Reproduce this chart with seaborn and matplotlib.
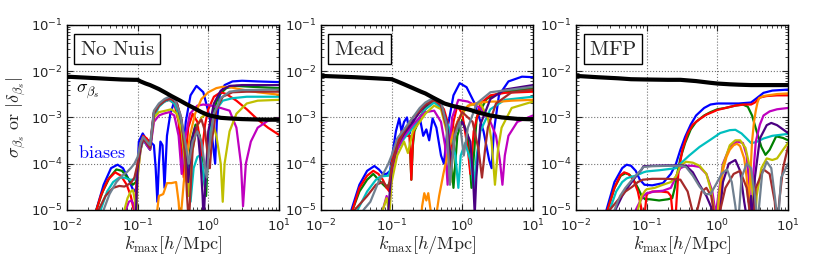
import pandas as pd
import matplotlib
matplotlib.use("Agg")
import matplotlib.pyplot as plt
import seaborn as sns

# colours of the bias curves, in drawing order
names = ["blue", "green", "red", "cyan", "magenta", "yellow", "orange", "indigo", "brown", "gray"]
colors = ["#0000ff", "#008000", "#ff0000", "#00bfbf", "#bf00bf", "#bfbf00",
          "#ff8c00", "#4b0082", "#a52a2a", "#708090"]
titles = ["No Nuis", "Mead", "MFP"]

# ---------------- panel 1: No Nuis ----------------
nn_sig_k = [0.01, 0.02, 0.04, 0.06, 0.09, 0.1, 0.11, 0.13, 0.15, 0.2, 0.25, 0.3, 0.4, 0.5, 0.6, 0.8, 1.0, 1.5, 2, 3, 5, 10]
nn_sig_y = [7.6e-3, 7.2e-3, 6.8e-3, 6.6e-3, 6.5e-3, 6.5e-3, 6.0e-3, 5.4e-3, 5.0e-3, 4.1e-3, 3.4e-3, 2.9e-3, 2.3e-3, 1.9e-3, 1.65e-3, 1.3e-3, 1.12e-3, 9.8e-4, 9.5e-4, 9.2e-4, 9.0e-4, 8.9e-4]

nn_blue_k = [0.026, 0.033, 0.042, 0.052, 0.062, 0.075, 0.088, 0.097, 0.104, 0.118, 0.13, 0.15, 0.17, 0.18, 0.19, 0.2, 0.21, 0.225, 0.24, 0.26, 0.29, 0.33, 0.38, 0.43, 0.48, 0.56, 0.68, 0.85, 1.05, 1.25, 1.32, 1.45, 1.7, 2.2, 3, 5, 10]
nn_blue_y = [1e-5, 3.5e-5, 8e-5, 9.5e-5, 8e-5, 4.5e-5, 2.5e-5, 3e-5, 3e-4, 4.5e-4, 3.5e-4, 3e-4, 2.5e-4, 8e-5, 1.5e-5, 1e-4, 3e-4, 2.5e-4, 3e-5, 4e-4, 1.2e-3, 2.2e-3, 1e-3, 1e-4, 8e-4, 3e-3, 4.8e-3, 3.5e-3, 1e-3, 1e-4, 8e-4, 3e-3, 5e-3, 6e-3, 6.2e-3, 6e-3, 5.8e-3]
nn_green_k = [0.026, 0.032, 0.04, 0.05, 0.06, 0.072, 0.085, 0.095, 0.1, 0.108, 0.12, 0.135, 0.15, 0.17, 0.2, 0.24, 0.28, 0.33, 0.4, 0.45, 0.5, 0.57, 0.66, 0.76, 0.86, 0.93, 1.0, 1.15, 1.4, 1.8, 2.5, 4, 10]
nn_green_y = [1e-5, 2.5e-5, 5e-5, 7.5e-5, 7e-5, 5e-5, 3.5e-5, 4e-5, 8e-5, 2e-4, 3.5e-4, 2.5e-4, 2e-4, 1.2e-3, 1.8e-3, 2.3e-3, 2.5e-3, 2.2e-3, 1e-3, 3e-4, 4e-5, 3e-4, 7e-4, 4e-4, 5e-5, 2e-5, 2e-4, 1.2e-3, 3e-3, 4.3e-3, 4.8e-3, 4.6e-3, 4.3e-3]
nn_red_k = [0.025, 0.03, 0.038, 0.048, 0.058, 0.07, 0.08, 0.088, 0.093, 0.1, 0.108, 0.12, 0.135, 0.15, 0.17, 0.2, 0.24, 0.28, 0.33, 0.38, 0.45, 0.52, 0.6, 0.7, 0.8, 0.9, 1.0, 1.2, 1.5, 1.8, 2.5, 3.5, 5, 7, 10]
nn_red_y = [8e-6, 2e-5, 4.5e-5, 6.5e-5, 5.5e-5, 3.5e-5, 2e-5, 1e-5, 1.5e-5, 1e-4, 2.5e-4, 4e-4, 3.5e-4, 2.5e-4, 1.3e-3, 1.8e-3, 2.2e-3, 2.4e-3, 2e-3, 8e-4, 5e-5, 6e-4, 1.2e-3, 8e-4, 1.5e-4, 7e-4, 1.5e-3, 2.8e-3, 3.5e-3, 3.2e-3, 2.3e-3, 1.5e-3, 9e-4, 6e-4, 4.2e-4]
nn_cyan_k = [0.03, 0.037, 0.045, 0.055, 0.065, 0.078, 0.09, 0.1, 0.11, 0.12, 0.135, 0.15, 0.17, 0.2, 0.24, 0.28, 0.33, 0.4, 0.46, 0.52, 0.56, 0.62, 0.7, 0.76, 0.84, 0.9, 0.95, 1.05, 1.3, 1.6, 2.2, 3.5, 10]
nn_cyan_y = [1e-5, 2.5e-5, 4e-5, 5e-5, 5e-5, 4.5e-5, 4.5e-5, 9e-5, 2e-4, 3.2e-4, 2.5e-4, 2e-4, 1e-3, 1.7e-3, 2.2e-3, 2.4e-3, 2e-3, 1e-3, 3.5e-4, 6e-5, 1.5e-5, 8e-5, 1.4e-4, 1.5e-4, 8e-5, 3e-5, 1e-4, 5e-4, 1.5e-3, 2.3e-3, 2.6e-3, 2.8e-3, 2.8e-3]
nn_magenta_k = [0.068, 0.075, 0.082, 0.088, 0.094, 0.1, 0.11, 0.12, 0.135, 0.15, 0.17, 0.2, 0.23, 0.28, 0.33, 0.38, 0.42, 0.46, 0.55, 0.7, 0.85, 1.1, 1.5, 2.0, 2.5, 2.9, 3.1, 3.4, 4, 5, 7, 10]
nn_magenta_y = [1e-5, 1.5e-5, 1.6e-5, 1.3e-5, 8e-6, 6e-5, 2e-4, 3.5e-4, 2.5e-4, 2e-4, 8e-4, 1.1e-3, 1.2e-3, 1.3e-3, 1.1e-3, 4e-4, 6e-5, 3e-4, 1.2e-3, 1.8e-3, 1.9e-3, 1.8e-3, 1.6e-3, 1.4e-3, 6e-4, 1e-4, 1.2e-5, 1e-4, 3e-4, 6e-4, 8.5e-4, 9.5e-4]
nn_yellow_k = [0.065, 0.072, 0.08, 0.086, 0.092, 0.096, 0.1, 0.11, 0.12, 0.135, 0.15, 0.17, 0.2, 0.25, 0.3, 0.36, 0.42, 0.48, 0.52, 0.58, 0.68, 0.8, 0.95, 1.1, 1.3, 1.5, 1.6, 1.7, 2.0, 2.5, 3.5, 5, 10]
nn_yellow_y = [1e-5, 1.8e-5, 2.5e-5, 2.7e-5, 1.5e-5, 6e-6, 5e-5, 2e-4, 3.5e-4, 3e-4, 2.5e-4, 1e-3, 1.3e-3, 1.4e-3, 1.5e-3, 1.2e-3, 5e-4, 7e-5, 2e-5, 1.5e-4, 6e-4, 1e-3, 1.2e-3, 1e-3, 4e-4, 1e-4, 1.5e-5, 1e-4, 5e-4, 1.2e-3, 2e-3, 2.3e-3, 2.4e-3]
nn_orange_k = [0.18, 0.2, 0.23, 0.26, 0.3, 0.35, 0.38, 0.4, 0.45, 0.5, 0.55, 0.65, 0.8, 1.0, 1.3, 1.6, 2, 3, 5, 10]
nn_orange_y = [5e-6, 2e-5, 2.2e-5, 3.8e-5, 3.8e-5, 4e-5, 1.5e-5, 5e-6, 4e-5, 1.5e-4, 4e-4, 1.2e-3, 2.5e-3, 3.5e-3, 4.3e-3, 4.6e-3, 4.5e-3, 4e-3, 3.5e-3, 3.1e-3]
nn_indigo_k = [0.095, 0.1, 0.11, 0.12, 0.135, 0.15, 0.17, 0.2, 0.25, 0.3, 0.36, 0.42, 0.48, 0.52, 0.58, 0.65, 0.72, 0.78, 0.83, 0.86, 0.9, 1.0, 1.2, 1.5, 2, 3, 10]
nn_indigo_y = [1e-5, 8e-5, 2.2e-4, 3.5e-4, 2.8e-4, 2.2e-4, 1.3e-3, 1.9e-3, 2.4e-3, 2.6e-3, 2e-3, 8e-4, 1.5e-4, 4e-5, 3e-4, 6e-4, 4e-4, 1e-4, 2e-5, 5e-6, 3e-5, 5e-4, 2e-3, 3.8e-3, 4.8e-3, 5e-3, 5e-3]
nn_brown_k = [0.028, 0.035, 0.045, 0.055, 0.065, 0.08, 0.09, 0.1, 0.11, 0.12, 0.135, 0.15, 0.17, 0.2, 0.25, 0.3, 0.36, 0.42, 0.47, 0.5, 0.53, 0.6, 0.7, 0.8, 0.9, 1.0, 1.05, 1.12, 1.3, 1.6, 2.2, 3.5, 10]
nn_brown_y = [1e-5, 2e-5, 3e-5, 3.3e-5, 3.2e-5, 3.8e-5, 5e-5, 1e-4, 2.5e-4, 3.5e-4, 2.8e-4, 2.2e-4, 1.2e-3, 1.8e-3, 2.4e-3, 2.5e-3, 2e-3, 9e-4, 1.5e-4, 2e-5, 5e-6, 2e-4, 7e-4, 9e-4, 5e-4, 1.2e-4, 8e-5, 3e-4, 1.5e-3, 2.8e-3, 3.5e-3, 3.6e-3, 3.6e-3]
nn_gray_k = [0.033, 0.04, 0.05, 0.06, 0.07, 0.08, 0.09, 0.1, 0.11, 0.12, 0.135, 0.15, 0.17, 0.2, 0.24, 0.28, 0.33, 0.4, 0.47, 0.53, 0.6, 0.7, 0.8, 0.9, 0.95, 1.02, 1.2, 1.5, 2.0, 3, 10]
nn_gray_y = [1e-5, 2.2e-5, 4e-5, 5.5e-5, 6.5e-5, 8e-5, 1e-4, 1.4e-4, 2.8e-4, 3.8e-4, 3e-4, 2.5e-4, 1.4e-3, 2e-3, 2.5e-3, 2.8e-3, 2.5e-3, 1.2e-3, 3e-4, 1e-4, 3e-4, 5e-4, 3e-4, 8e-5, 5e-5, 2e-4, 1.2e-3, 2.6e-3, 3.6e-3, 3.9e-3, 4e-3]

# ---------------- panel 2: Mead ----------------
md_sig_k = [0.01, 0.03, 0.06, 0.1, 0.12, 0.15, 0.2, 0.26, 0.3, 0.4, 0.56, 0.75, 1.0, 1.3, 1.7, 2.5, 3.6, 6, 10]
md_sig_y = [7.9e-3, 7.4e-3, 7.0e-3, 6.7e-3, 6.0e-3, 5.2e-3, 4.3e-3, 3.6e-3, 3.3e-3, 2.6e-3, 2.0e-3, 1.75e-3, 1.6e-3, 1.45e-3, 1.27e-3, 1.1e-3, 1.0e-3, 9.3e-4, 9.1e-4]

md_blue_k = [0.027, 0.035, 0.045, 0.057, 0.066, 0.075, 0.085, 0.095, 0.105, 0.115, 0.128, 0.138, 0.15, 0.165, 0.18, 0.2, 0.22, 0.25, 0.28, 0.31, 0.34, 0.38, 0.43, 0.5, 0.55, 0.62, 0.75, 0.92, 1.15, 1.5, 2.0, 2.4, 2.6, 2.8, 3.3, 4.5, 7, 10]
md_blue_y = [1e-5, 3.5e-5, 7e-5, 8.9e-5, 7.5e-5, 6e-5, 6e-5, 7e-5, 2e-4, 5e-4, 9.5e-4, 5e-4, 8e-4, 1e-3, 4.5e-4, 9e-4, 6e-4, 1e-3, 4e-4, 5.5e-4, 3.2e-4, 9.5e-4, 6e-4, 1.5e-4, 1e-4, 6e-4, 3e-3, 5.5e-3, 4.5e-3, 2e-3, 5e-4, 1.2e-4, 8e-5, 5e-4, 3e-3, 6e-3, 7.6e-3, 7.4e-3]
md_green_k = [0.028, 0.035, 0.045, 0.055, 0.07, 0.085, 0.095, 0.1, 0.11, 0.12, 0.15, 0.18, 0.19, 0.2, 0.21, 0.25, 0.3, 0.4, 0.5, 0.65, 0.75, 0.85, 1.0, 1.2, 1.35, 1.6, 2.2, 3.5, 10]
md_green_y = [1e-5, 2.5e-5, 4.5e-5, 6e-5, 4e-5, 3e-5, 4e-5, 1e-4, 2e-4, 3e-4, 5e-4, 4e-4, 4.5e-5, 2.5e-4, 5e-4, 1e-3, 1.6e-3, 2.3e-3, 1.8e-3, 5e-4, 3e-5, 4e-4, 9e-4, 4e-4, 3e-5, 1e-3, 2.5e-3, 3.5e-3, 4.3e-3]
md_red_k = [0.028, 0.035, 0.045, 0.055, 0.065, 0.075, 0.085, 0.093, 0.1, 0.11, 0.12, 0.14, 0.16, 0.18, 0.19, 0.2, 0.21, 0.25, 0.3, 0.4, 0.45, 0.55, 0.62, 0.68, 0.75, 0.85, 1.0, 1.2, 1.3, 1.45, 1.8, 2.5, 4, 10]
md_red_y = [1e-5, 3e-5, 5.5e-5, 7e-5, 6e-5, 4.5e-5, 3e-5, 2.5e-5, 1e-4, 2e-4, 3e-4, 5e-4, 4e-4, 4e-4, 4.5e-5, 3e-4, 6e-4, 1e-3, 1.5e-3, 2.2e-3, 2.2e-3, 1.5e-3, 8e-4, 2e-4, 8e-4, 1.8e-3, 1.2e-3, 2e-4, 6e-5, 5e-4, 2e-3, 3e-3, 3.4e-3, 3.6e-3]
md_cyan_k = [0.033, 0.045, 0.06, 0.07, 0.09, 0.1, 0.12, 0.15, 0.2, 0.25, 0.3, 0.4, 0.5, 0.65, 0.8, 0.88, 0.95, 1.1, 1.3, 1.45, 1.6, 1.8, 2.5, 4, 10]
md_cyan_y = [1e-5, 2.5e-5, 4.5e-5, 5.3e-5, 5.5e-5, 9e-5, 2e-4, 3.5e-4, 6e-4, 1e-3, 1.5e-3, 2.1e-3, 1.6e-3, 6e-4, 1.5e-4, 3e-5, 1.5e-4, 2.8e-4, 1.2e-4, 3e-5, 1.5e-4, 5e-4, 1.5e-3, 2.4e-3, 2.8e-3]
md_magenta_k = [0.075, 0.085, 0.093, 0.1, 0.12, 0.15, 0.2, 0.25, 0.3, 0.4, 0.5, 0.57, 0.62, 0.67, 0.72, 0.88, 1.2, 1.8, 2.5, 3.0, 3.4, 3.7, 4.0, 4.5, 6, 10]
md_magenta_y = [1e-5, 2e-5, 1.2e-5, 5e-5, 2e-4, 4e-4, 7e-4, 1e-3, 1.3e-3, 1.4e-3, 8e-4, 2.5e-4, 3.5e-5, 3e-4, 1e-3, 2.4e-3, 2.2e-3, 1.6e-3, 8e-4, 4e-4, 1.2e-4, 3.5e-5, 1.5e-4, 4e-4, 8e-4, 1.1e-3]
md_yellow_k = [0.075, 0.085, 0.093, 0.1, 0.12, 0.15, 0.17, 0.2, 0.25, 0.3, 0.4, 0.5, 0.6, 0.68, 0.76, 0.85, 1.2, 1.8, 2.3, 2.6, 2.9, 3.2, 3.6, 5, 10]
md_yellow_y = [1e-5, 1.8e-5, 8e-6, 4e-5, 1.5e-4, 3e-4, 1.7e-4, 5e-4, 8e-4, 1.2e-3, 1.8e-3, 1.5e-3, 5e-4, 4e-5, 3e-4, 8e-4, 1.8e-3, 2e-3, 1e-3, 3e-4, 3.5e-5, 2e-4, 6e-4, 1.6e-3, 2.2e-3]
md_orange_k = [0.25, 0.27, 0.29, 0.31, 0.33, 0.35, 0.38, 0.41, 0.43, 0.47, 0.54, 0.62, 0.74, 0.88, 1.02, 1.3, 1.8, 2.5, 3.5, 5, 10]
md_orange_y = [3e-6, 1.2e-5, 2.3e-5, 1.6e-5, 2.3e-5, 1.2e-5, 5e-6, 3e-6, 8e-6, 2e-5, 6e-5, 1.6e-4, 4.6e-4, 9e-4, 1.4e-3, 1.9e-3, 2.1e-3, 2.2e-3, 2.2e-3, 2.3e-3, 2.4e-3]
md_indigo_k = [0.09, 0.1, 0.12, 0.15, 0.2, 0.25, 0.3, 0.4, 0.5, 0.6, 0.7, 0.8, 1.0, 1.3, 1.42, 1.5, 1.58, 1.8, 2.5, 4, 10]
md_indigo_y = [1e-5, 8e-5, 2.5e-4, 4.5e-4, 8e-4, 1.3e-3, 1.8e-3, 2.5e-3, 2e-3, 8e-4, 1e-4, 5e-4, 8e-4, 3e-4, 5e-5, 8e-6, 5e-5, 7e-4, 2.5e-3, 4e-3, 5e-3]
md_brown_k = [0.03, 0.045, 0.06, 0.075, 0.09, 0.1, 0.12, 0.15, 0.2, 0.25, 0.3, 0.4, 0.5, 0.6, 0.68, 0.8, 1.0, 1.4, 1.7, 1.9, 2.1, 2.3, 3, 5, 10]
md_brown_y = [1e-5, 2e-5, 3.5e-5, 4e-5, 3e-5, 8e-5, 2.5e-4, 5e-4, 1e-3, 1.4e-3, 1.9e-3, 2.4e-3, 1.8e-3, 6e-4, 6e-5, 6e-4, 1.3e-3, 8e-4, 2e-4, 5e-5, 2e-4, 6e-4, 2e-3, 3.5e-3, 4e-3]
md_gray_k = [0.04, 0.05, 0.065, 0.08, 0.09, 0.1, 0.12, 0.15, 0.2, 0.25, 0.3, 0.4, 0.5, 0.6, 0.67, 0.78, 0.92, 1.05, 1.2, 1.6, 2.5, 10]
md_gray_y = [1e-5, 1.5e-5, 4e-5, 7e-5, 1e-4, 1.5e-4, 3.5e-4, 5.5e-4, 1e-3, 1.6e-3, 2.1e-3, 2.7e-3, 2.2e-3, 7e-4, 3.5e-5, 4e-4, 8e-4, 1.5e-4, 6e-4, 2e-3, 3.5e-3, 4.6e-3]

# ---------------- panel 3: MFP ----------------
mf_sig_k = [0.01, 0.02, 0.04, 0.06, 0.1, 0.2, 0.3, 0.5, 0.8, 1.0, 1.5, 2, 3, 5, 10]
mf_sig_y = [7.9e-3, 7.4e-3, 7.0e-3, 6.7e-3, 6.6e-3, 6.5e-3, 6.5e-3, 6.1e-3, 5.6e-3, 5.4e-3, 5.2e-3, 5.1e-3, 5.0e-3, 5.0e-3, 5.0e-3]

mf_blue_k = [0.027, 0.035, 0.045, 0.052, 0.06, 0.07, 0.08, 0.093, 0.12, 0.17, 0.22, 0.26, 0.3, 0.35, 0.42, 0.5, 0.65, 0.8, 1.0, 1.3, 2, 3, 3.6, 4.5, 6, 10]
mf_blue_y = [1e-5, 4e-5, 8e-5, 9.5e-5, 9e-5, 7e-5, 4.5e-5, 3.5e-5, 3.4e-5, 3.8e-5, 6e-5, 1e-4, 2e-4, 3.8e-4, 7e-4, 1.1e-3, 1.6e-3, 1.9e-3, 2.0e-3, 2.0e-3, 2.0e-3, 2.1e-3, 2.6e-3, 3.4e-3, 3.8e-3, 4.0e-3]
mf_green_k = [0.028, 0.035, 0.043, 0.05, 0.057, 0.065, 0.075, 0.085, 0.095, 0.11, 0.15, 0.2, 0.23, 0.25, 0.27, 0.3, 0.35, 0.42, 0.5, 0.65, 0.8, 1.0, 1.3, 1.8, 2.3, 2.7, 3.1, 3.6, 4.2, 4.8, 5.5, 6.8, 8.5, 10]
mf_green_y = [1e-5, 3e-5, 5.5e-5, 6.2e-5, 5.8e-5, 4.5e-5, 3e-5, 2e-5, 1.7e-5, 1.7e-5, 1.6e-5, 1.7e-5, 1.8e-5, 3e-5, 6e-5, 1.3e-4, 2.8e-4, 5.5e-4, 8e-4, 1.1e-3, 1.3e-3, 1.5e-3, 1.6e-3, 1.8e-3, 1.9e-3, 1.7e-3, 1.1e-3, 5e-4, 2.3e-4, 1.55e-4, 2e-4, 3.9e-4, 3.6e-4, 3.2e-4]
mf_red_k = [0.028, 0.035, 0.042, 0.048, 0.055, 0.065, 0.075, 0.085, 0.09, 0.095, 0.1, 0.12, 0.16, 0.2, 0.22, 0.24, 0.26, 0.28, 0.32, 0.38, 0.45, 0.55, 0.7, 0.85, 1.0, 1.3, 1.8, 2.4, 3.0, 3.4, 4, 5, 7, 10]
mf_red_y = [1e-5, 3e-5, 5.5e-5, 6.5e-5, 6e-5, 4.5e-5, 2.5e-5, 1e-5, 5e-6, 1e-5, 2.2e-5, 2.5e-5, 2.5e-5, 2.4e-5, 2e-5, 5e-6, 1e-5, 6e-5, 2e-4, 4.5e-4, 7e-4, 9e-4, 1.15e-3, 1.3e-3, 1.45e-3, 1.6e-3, 1.8e-3, 1.9e-3, 1.9e-3, 2.1e-3, 2.7e-3, 2.9e-3, 3e-3, 3e-3]
mf_cyan_k = [0.03, 0.037, 0.045, 0.052, 0.06, 0.07, 0.08, 0.09, 0.1, 0.15, 0.2, 0.26, 0.3, 0.4, 0.56, 0.8, 1.1, 1.5, 1.8, 2.2, 2.6, 3.0, 3.5, 4.5, 6, 10]
mf_cyan_y = [1e-5, 2.5e-5, 4e-5, 4.8e-5, 5.2e-5, 5.5e-5, 6e-5, 6.5e-5, 6.8e-5, 7.2e-5, 7.6e-5, 8e-5, 1e-4, 1.5e-4, 2.3e-4, 3.3e-4, 4.6e-4, 5.3e-4, 5.4e-4, 4.5e-4, 3.5e-4, 2.8e-4, 2.9e-4, 3.5e-4, 4e-4, 4.4e-4]
mf_magenta_k = [0.07, 0.08, 0.09, 0.1, 0.13, 0.17, 0.22, 0.27, 0.3, 0.36, 0.45, 0.56, 0.7, 0.85, 0.95, 1.05, 1.2, 1.5, 1.9, 2.3, 2.6, 2.85, 3.0, 3.2, 3.5, 4, 4.5, 5.5, 7, 10]
mf_magenta_y = [1e-5, 1.5e-5, 2e-5, 2.3e-5, 2.5e-5, 2.6e-5, 3e-5, 6e-5, 8e-5, 9e-5, 9e-5, 8.5e-5, 6e-5, 2.5e-5, 8e-6, 2.5e-5, 1e-4, 2.3e-4, 3e-4, 2.8e-4, 1.5e-4, 3e-5, 4e-6, 5e-5, 3e-4, 7e-4, 1.1e-3, 1.35e-3, 1.5e-3, 1.6e-3]
mf_yellow_k = [0.075, 0.085, 0.095, 0.1, 0.13, 0.17, 0.22, 0.26, 0.3, 0.36, 0.45, 0.56, 0.7, 0.82, 0.92, 0.98, 1.05, 1.2, 1.5, 1.8, 2.1, 2.5, 2.9, 3.2, 3.4, 3.6, 4.2, 5, 6, 7, 8.5, 10]
mf_yellow_y = [1e-5, 2e-5, 2.6e-5, 2.8e-5, 3e-5, 3.5e-5, 4e-5, 5.3e-5, 9e-5, 1.1e-4, 1.05e-4, 9e-5, 6e-5, 2.5e-5, 8e-6, 4e-6, 2e-5, 9e-5, 2.5e-4, 3.2e-4, 3.2e-4, 2.2e-4, 8e-5, 2e-5, 4e-6, 2e-5, 8e-5, 1.3e-4, 1.2e-4, 1.3e-4, 2e-4, 2.8e-4]
mf_orange_k = [0.9, 1.0, 1.06, 1.15, 1.22, 1.35, 1.5, 1.7, 1.9, 2.1, 2.4, 2.6, 2.75, 2.9, 3.1, 3.3, 3.5, 3.7, 3.9, 4.5, 5.2, 7, 10]
mf_orange_y = [1e-6, 3e-6, 1e-5, 4e-5, 8e-5, 1.4e-4, 2e-4, 2.5e-4, 2.7e-4, 2.4e-4, 1.3e-4, 5e-5, 1.5e-5, 4e-5, 3e-4, 8e-4, 1.4e-3, 2.1e-3, 2.6e-3, 2.9e-3, 3.0e-3, 3.2e-3, 3.3e-3]
mf_indigo_k = [0.036, 0.045, 0.055, 0.065, 0.075, 0.085, 0.09, 0.12, 0.2, 0.3, 0.36, 0.45, 0.56, 0.7, 0.85, 1.0, 1.1, 1.2, 1.45, 1.8, 2.1, 2.4, 2.7, 3.0, 3.15, 3.4, 4, 5, 5.8, 7, 8.5, 10]
mf_indigo_y = [1e-5, 2e-5, 3.2e-5, 4.5e-5, 6e-5, 7.5e-5, 8.8e-5, 9e-5, 9.2e-5, 9.2e-5, 9e-5, 6.5e-5, 3.5e-5, 2e-5, 1e-5, 3e-6, 1e-5, 4e-5, 1e-4, 1.2e-4, 7e-5, 1.5e-5, 5e-6, 2e-5, 4e-6, 5e-5, 3.5e-4, 6.8e-4, 7.6e-4, 6.8e-4, 5.5e-4, 4.6e-4]
mf_brown_k = [0.03, 0.04, 0.05, 0.063, 0.075, 0.088, 0.12, 0.2, 0.3, 0.38, 0.44, 0.48, 0.52, 0.6, 0.7, 0.82, 0.95, 1.0, 1.1, 1.3, 1.7, 2.1, 2.6, 2.9, 3.1, 3.5, 4.5, 5.5, 6.5, 7.0, 7.5, 8.5, 10]
mf_brown_y = [1e-5, 1.7e-5, 2.5e-5, 3.2e-5, 4e-5, 4.5e-5, 4.7e-5, 4.7e-5, 4.5e-5, 2.5e-5, 1e-5, 3e-6, 1e-5, 2.5e-5, 3e-5, 2e-5, 5e-6, 2e-6, 1e-5, 3e-5, 6e-5, 7e-5, 3e-5, 8e-6, 2e-6, 3e-5, 7.5e-5, 6e-5, 1.5e-5, 3e-6, 1.5e-5, 8e-5, 2.3e-4]
mf_gray_k = [0.035, 0.042, 0.05, 0.06, 0.07, 0.08, 0.09, 0.12, 0.2, 0.3, 0.36, 0.45, 0.56, 0.68, 0.8, 0.95, 1.15, 1.37, 1.6, 1.8, 1.95, 2.2, 2.6, 3.0, 3.4, 3.7, 4.3, 5, 5.8, 6.5, 7.2, 8, 10]
mf_gray_y = [1e-5, 2e-5, 3e-5, 4.2e-5, 5.5e-5, 6.8e-5, 8.5e-5, 8.8e-5, 9e-5, 9e-5, 8.5e-5, 5.5e-5, 3.2e-5, 2.2e-5, 2.2e-5, 3.5e-5, 6e-5, 7.5e-5, 4e-5, 1.2e-5, 4e-6, 5e-5, 1e-4, 8e-5, 2e-5, 5e-6, 6e-5, 1.1e-4, 8e-5, 2e-5, 5e-6, 5e-5, 1e-4]

panels = [
    (nn_sig_k, nn_sig_y, [(nn_blue_k, nn_blue_y), (nn_green_k, nn_green_y), (nn_red_k, nn_red_y),
                          (nn_cyan_k, nn_cyan_y), (nn_magenta_k, nn_magenta_y), (nn_yellow_k, nn_yellow_y),
                          (nn_orange_k, nn_orange_y), (nn_indigo_k, nn_indigo_y), (nn_brown_k, nn_brown_y),
                          (nn_gray_k, nn_gray_y)]),
    (md_sig_k, md_sig_y, [(md_blue_k, md_blue_y), (md_green_k, md_green_y), (md_red_k, md_red_y),
                          (md_cyan_k, md_cyan_y), (md_magenta_k, md_magenta_y), (md_yellow_k, md_yellow_y),
                          (md_orange_k, md_orange_y), (md_indigo_k, md_indigo_y), (md_brown_k, md_brown_y),
                          (md_gray_k, md_gray_y)]),
    (mf_sig_k, mf_sig_y, [(mf_blue_k, mf_blue_y), (mf_green_k, mf_green_y), (mf_red_k, mf_red_y),
                          (mf_cyan_k, mf_cyan_y), (mf_magenta_k, mf_magenta_y), (mf_yellow_k, mf_yellow_y),
                          (mf_orange_k, mf_orange_y), (mf_indigo_k, mf_indigo_y), (mf_brown_k, mf_brown_y),
                          (mf_gray_k, mf_gray_y)]),
]

sns.set_style("ticks")
plt.rcParams["font.family"] = ["DejaVu Sans"]
plt.rcParams["mathtext.fontset"] = "cm"
plt.rcParams["axes.unicode_minus"] = False
plt.rcParams["xtick.direction"] = "in"
plt.rcParams["ytick.direction"] = "in"
plt.rcParams["xtick.top"] = True
plt.rcParams["ytick.right"] = True
plt.rcParams["xtick.major.size"] = 4
plt.rcParams["ytick.major.size"] = 4
plt.rcParams["xtick.minor.size"] = 2
plt.rcParams["ytick.minor.size"] = 2
plt.rcParams["axes.edgecolor"] = "black"
plt.rcParams["axes.linewidth"] = 1.0

fig = plt.figure(figsize=(8.3, 2.56), dpi=100)
lefts = [0.0807, 0.3867, 0.694]

for i, (sig_k, sig_y, curves) in enumerate(panels):
    ax = fig.add_axes([lefts[i], 0.180, 0.2554, 0.7227])
    ax.set_xscale("log")
    ax.set_yscale("log")

    parts = []
    for name, (k, y) in zip(names, curves):
        parts.append(pd.DataFrame({"k": k, "val": y, "curve": name}))
    df = pd.concat(parts, ignore_index=True)

    sns.lineplot(data=df, x="k", y="val", hue="curve", hue_order=names,
                 palette=dict(zip(names, colors)), estimator=None, sort=False,
                 legend=False, lw=1.6, ax=ax)
    sns.lineplot(x=sig_k, y=sig_y, color="black", lw=3, estimator=None, sort=False, ax=ax)

    ax.set_xlim(1e-2, 1e1)
    ax.set_ylim(1e-5, 1e-1)
    ax.grid(True, which="major", ls=":", color="0.45", lw=0.8)
    ax.set_axisbelow(True)
    ax.tick_params(axis="y", labelsize=9.5, pad=3)
    ax.tick_params(axis="x", labelsize=9.5, pad=5.5)
    ax.set_xlabel(r"$k_{\mathrm{max}}[h/\mathrm{Mpc}]$", fontsize=13, labelpad=0)
    ax.set_ylabel("")
    ax.text(0.06, 0.925, r"$\mathrm{" + titles[i].replace(" ", r"\ ") + "}$",
            transform=ax.transAxes, fontsize=15, ha="left", va="top",
            bbox=dict(boxstyle="square,pad=0.25", fc="white", ec="black", lw=1))

    if i == 0:
        ax.set_ylabel(r"$\sigma_{\beta_s}\ \mathrm{or}\ |\delta_{\beta_s}|$", fontsize=13, labelpad=2)
        ax.text(0.0135, 3.6e-3, r"$\sigma_{\beta_s}$", fontsize=13, ha="left", va="center", color="black")
        ax.text(0.0145, 1.7e-4, r"$\mathrm{biases}$", fontsize=13, ha="left", va="center", color="blue")

fig.savefig("out.png", dpi=100)
